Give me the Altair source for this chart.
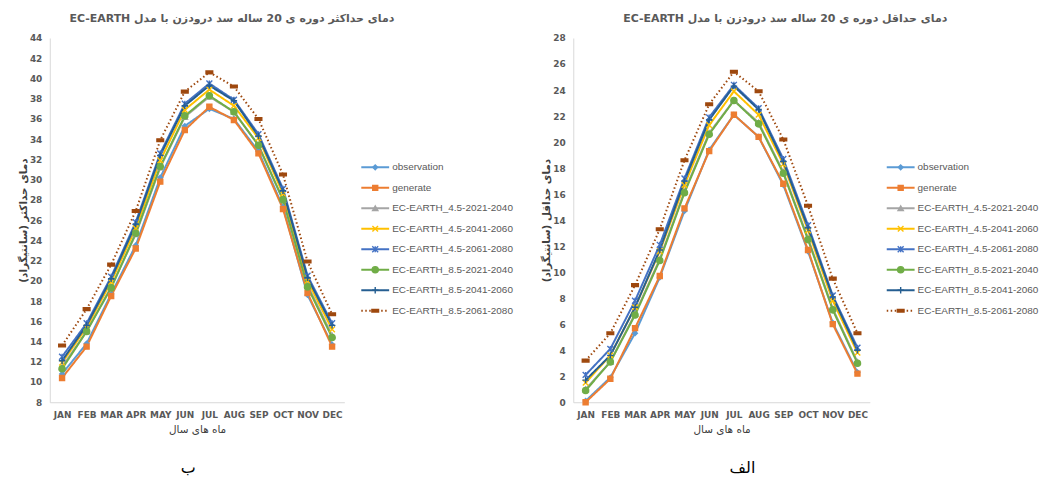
import altair as alt
import pandas as pd

months = ["JAN", "FEB", "MAR", "APR", "MAY", "JUN", "JUL", "AUG", "SEP", "OCT", "NOV", "DEC"]
series = [
    "observation",
    "generate",
    "EC-EARTH_4.5-2021-2040",
    "EC-EARTH_4.5-2041-2060",
    "EC-EARTH_4.5-2061-2080",
    "EC-EARTH_8.5-2021-2040",
    "EC-EARTH_8.5-2041-2060",
    "EC-EARTH_8.5-2061-2080",
]
colors = ["#5B9BD5", "#ED7D31", "#A5A5A5", "#FFC000", "#4472C4", "#70AD47", "#255E91", "#9E480E"]
shapes = [
    "diamond",
    "square",
    "triangle-up",
    "M-1,-1L1,1M-1,1L1,-1",
    "M-1,-1L1,1M-1,1L1,-1M0,-1L0,1",
    "circle",
    "M-1,0L1,0M0,-1L0,1",
    "M-1,-0.4L1,-0.4L1,0.4L-1,0.4Z",
]
sizes = [22, 45, 22, 30, 40, 45, 40, 30]
dashes = [[1, 0]] * 7 + [[1.5, 2.5]]

# Maximum temperature (chart ب)
tmax_obs = [10.8, 13.8, 18.7, 23.5, 30.2, 35.3, 37.0, 36.0, 32.8, 27.3, 18.6, 13.7]
tmax_gen = [10.4, 13.5, 18.5, 23.2, 29.8, 34.9, 37.2, 35.9, 32.6, 27.1, 18.8, 13.5]
tmax_45_2021 = [11.5, 15.0, 19.4, 24.6, 31.2, 36.2, 38.2, 36.7, 33.4, 28.0, 19.6, 14.6]
tmax_45_2041 = [11.9, 15.4, 19.9, 25.2, 31.9, 36.9, 38.9, 37.3, 34.1, 28.6, 20.0, 15.2]
tmax_45_2061 = [12.5, 15.8, 20.4, 25.8, 32.6, 37.5, 39.5, 37.9, 34.5, 29.1, 20.5, 15.8]
tmax_85_2021 = [11.3, 15.0, 19.3, 24.7, 31.3, 36.3, 38.3, 36.7, 33.4, 28.0, 19.4, 14.4]
tmax_85_2041 = [12.1, 15.6, 20.2, 25.6, 32.4, 37.3, 39.3, 37.8, 34.3, 28.9, 20.3, 15.6]
tmax_85_2061 = [13.6, 17.2, 21.6, 26.9, 33.9, 38.7, 40.6, 39.2, 36.0, 30.5, 21.9, 16.7]

# Minimum temperature (chart الف)
tmin_obs = [0.1, 1.9, 5.3, 9.6, 14.7, 19.4, 22.1, 20.4, 16.7, 11.6, 6.1, 2.3]
tmin_gen = [0.0, 1.8, 5.7, 9.7, 14.9, 19.3, 22.1, 20.4, 16.8, 11.7, 6.0, 2.2]
tmin_45_2021 = [1.0, 3.1, 6.8, 11.0, 16.2, 20.7, 23.2, 21.5, 17.7, 12.6, 7.2, 3.1]
tmin_45_2041 = [1.5, 3.6, 7.3, 11.6, 16.7, 21.3, 23.9, 22.1, 18.3, 13.2, 7.8, 3.8]
tmin_45_2061 = [2.1, 4.1, 7.8, 12.1, 17.2, 21.9, 24.4, 22.6, 18.7, 13.6, 8.2, 4.2]
tmin_85_2021 = [0.9, 3.1, 6.7, 10.9, 16.1, 20.6, 23.2, 21.4, 17.6, 12.5, 7.1, 3.0]
tmin_85_2041 = [1.7, 3.6, 7.3, 11.7, 17.0, 21.7, 24.3, 22.5, 18.5, 13.4, 8.1, 4.0]
tmin_85_2061 = [3.2, 5.3, 9.0, 13.3, 18.6, 22.9, 25.4, 23.9, 20.2, 15.1, 9.5, 5.3]

tmax_all = [tmax_obs, tmax_gen, tmax_45_2021, tmax_45_2041, tmax_45_2061, tmax_85_2021, tmax_85_2041, tmax_85_2061]
tmin_all = [tmin_obs, tmin_gen, tmin_45_2021, tmin_45_2041, tmin_45_2061, tmin_85_2021, tmin_85_2041, tmin_85_2061]

title_max = "EC-EARTH    دمای حداکثر دوره ی 20 ساله سد درودزن با مدل"
title_min = "EC-EARTH    دمای حداقل دوره ی 20 ساله سد درودزن با مدل"
ytitle_max = "دمای حداکثر (سانتیگراد)"
ytitle_min = "دمای حداقل (سانتیگراد)"
xtitle = "ماه های سال"

GRAY = "#595959"
FONT = "DejaVu Sans"
PLOT_H = 366


def long_df(all_vals):
    rows = []
    for si, (name, vals) in enumerate(zip(series, all_vals)):
        for m, v in zip(months, vals):
            rows.append({"series": name, "idx": si, "month": m, "value": v})
    return pd.DataFrame(rows)


color_scale = alt.Scale(domain=series, range=colors)
shape_scale = alt.Scale(domain=series, range=shapes)
size_scale = alt.Scale(domain=series, range=sizes)
dash_scale = alt.Scale(domain=series, range=dashes)


def main_chart(vals, ymin, ymax, title, ytitle, caption, cap_x, title_dx, width):
    df = long_df(vals)
    base = alt.Chart(df)
    x = alt.X(
        "month:N",
        sort=months,
        scale=alt.Scale(type="point", padding=0.5),
        axis=alt.Axis(
            title=xtitle, labelAngle=0, labelPadding=8, titlePadding=5,
            labelFontSize=9, labelFontWeight="bold", labelFont=FONT,
            titleFont=FONT, titleFontSize=10.5, titleFontWeight="normal",
            titleColor="#404040",
        ),
    )
    y = alt.Y(
        "value:Q",
        scale=alt.Scale(domain=[ymin, ymax], nice=False, zero=False),
        axis=alt.Axis(
            title=ytitle, values=list(range(ymin, ymax + 1, 2)), labelPadding=8,
            titlePadding=1, labelFontSize=9, labelFontWeight="bold", labelFont=FONT,
            titleFont=FONT, titleFontSize=10.5, titleFontWeight="bold", titleColor="#404040",
        ),
    )
    lines = base.mark_line(strokeWidth=2).encode(
        x=x, y=y,
        color=alt.Color("series:N", scale=color_scale, legend=None),
        strokeDash=alt.StrokeDash("series:N", scale=dash_scale, legend=None),
        detail="idx:O",
    )
    pts = base.mark_point(opacity=1, strokeWidth=1.4).encode(
        x=x, y=y,
        fill=alt.Fill("series:N", scale=color_scale, legend=None),
        stroke=alt.Stroke("series:N", scale=color_scale, legend=None),
        shape=alt.Shape("series:N", scale=shape_scale, legend=None),
        size=alt.Size("series:N", scale=size_scale, legend=None),
    )
    cap = alt.Chart(pd.DataFrame({"t": [caption]})).mark_text(
        fontSize=16, font="DejaVu Sans", color="#000000", align="center", baseline="middle"
    ).encode(x=alt.value(cap_x), y=alt.value(432), text="t:N")
    return alt.layer(lines, pts, cap).properties(
        width=width, height=PLOT_H,
        title=alt.TitleParams(
            title, fontSize=11, fontWeight="bold", color=GRAY, font=FONT,
            anchor="middle", dx=title_dx, offset=10,
        ),
    )


def legend_chart(width):
    ldf = pd.DataFrame({"series": series, "idx": list(range(len(series)))})
    base = alt.Chart(ldf)
    y = alt.Y("series:N", sort=series, scale=alt.Scale(type="point", range=[130, 274], padding=0), axis=None)
    rule = base.mark_rule(strokeWidth=2).encode(
        x=alt.value(0), x2=alt.value(28), y=y,
        color=alt.Color("series:N", scale=color_scale, legend=None),
        strokeDash=alt.StrokeDash("series:N", scale=dash_scale, legend=None),
    )
    pts = base.mark_point(opacity=1, strokeWidth=1.4).encode(
        x=alt.value(14), y=y,
        fill=alt.Fill("series:N", scale=color_scale, legend=None),
        stroke=alt.Stroke("series:N", scale=color_scale, legend=None),
        shape=alt.Shape("series:N", scale=shape_scale, legend=None),
        size=alt.Size("series:N", scale=size_scale, legend=None),
    )
    txt = base.mark_text(align="left", baseline="middle", fontSize=10, font="Liberation Sans", color=GRAY).encode(
        x=alt.value(31), y=y, text="series:N"
    )
    return alt.layer(rule, pts, txt).properties(width=width, height=PLOT_H)


left = main_chart(tmax_all, 8, 44, title_max, ytitle_max, "ب", 139, 35, 296)
right = main_chart(tmin_all, 0, 28, title_min, ytitle_min, "الف", 170, 64, 298)

chart = alt.hconcat(
    left, legend_chart(196), right, legend_chart(120), spacing=17, bounds="flush"
).resolve_scale(
    x="independent", y="independent"
).properties(
    padding={"left": 10, "top": 4, "right": 0, "bottom": 0}, background="white"
).configure_view(stroke=None).configure_axis(
    grid=False, ticks=False, domainColor="#D9D9D9", domainWidth=1, labelColor=GRAY
)

chart.save("out.html", embed_options={"renderer": "svg", "actions": False})
